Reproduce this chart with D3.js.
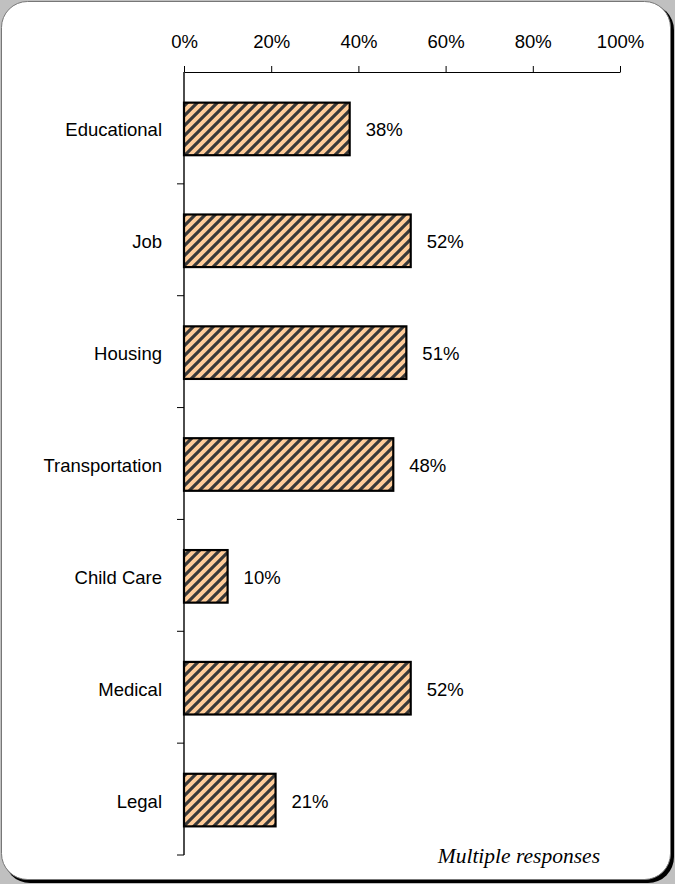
<!DOCTYPE html>
<html>
<head>
<meta charset="utf-8">
<script src="https://cdn.jsdelivr.net/npm/d3@7"></script>
<style>
  html, body { margin: 0; padding: 0; background: #c0c0c0; }
  svg { display: block; }
</style>
</head>
<body>
<script>
// Services needed, share of respondents
const categories = ["Educational", "Job", "Housing", "Transportation", "Child Care", "Medical", "Legal"];
const values = [38, 52, 51, 48, 10, 52, 21];
const tickValues = [0, 20, 40, 60, 80, 100];
const note = "Multiple responses";

const W = 675, H = 884;
const FONT = "Liberation Sans, Arial, sans-serif";
const svg = d3.select("body").append("svg").attr("width", W).attr("height", H);

// Diagonal hatch fill
const defs = svg.append("defs");
const P = 10;
const pat = defs.append("pattern")
  .attr("id", "hatch").attr("patternUnits", "userSpaceOnUse")
  .attr("width", P).attr("height", P);
pat.append("rect").attr("width", P).attr("height", P).attr("fill", "#ffcc99");
pat.append("path")
  .attr("d", `M-2,2 L2,-2 M0,${P} L${P},0 M${P - 2},${P + 2} L${P + 2},${P - 2}`)
  .attr("stroke", "#383838").attr("stroke-width", 3.1).attr("stroke-linecap", "square");

// Rounded frame with drop shadow
svg.append("rect").attr("x", 4).attr("y", 4).attr("width", W - 5).attr("height", H - 5)
  .attr("rx", 26).attr("fill", "#000");
svg.append("rect").attr("x", 1.5).attr("y", 1.5).attr("width", W - 6).attr("height", H - 6)
  .attr("rx", 26).attr("fill", "#fff").attr("stroke", "#777").attr("stroke-width", 1);

const margin = { left: 184, right: 55, top: 72, bottom: 29 };
const x = d3.scaleLinear().domain([0, 100]).range([margin.left, W - margin.right]);
const yTop = margin.top, yBot = H - margin.bottom;
const y = d3.scaleBand().domain(categories).range([yTop + 1, yBot + 1]).paddingInner(0.53).paddingOuter(0.265);

// Top percentage axis
const xAxis = svg.append("g").attr("transform", `translate(0,${margin.top})`)
  .call(d3.axisTop(x).tickValues(tickValues).tickFormat(d => d + "%").tickSize(6).tickSizeOuter(0).tickPadding(18));
xAxis.select(".domain").attr("stroke", "#000").attr("stroke-width", 1.2);
xAxis.selectAll(".tick line").attr("stroke", "#000");
xAxis.selectAll("text").attr("font-family", FONT).attr("font-size", 18.5).attr("fill", "#000");

// Category axis with ticks between bands
const step = (yBot - yTop) / categories.length;
const yg = svg.append("g");
yg.append("line").attr("x1", margin.left).attr("x2", margin.left).attr("y1", yTop).attr("y2", yBot)
  .attr("stroke", "#000").attr("stroke-width", 1.4);
d3.range(1, categories.length + 1).forEach(i => {
  yg.append("line").attr("x1", margin.left - 7).attr("x2", margin.left)
    .attr("y1", yTop + i * step).attr("y2", yTop + i * step).attr("stroke", "#000");
});
yg.selectAll("text.cat").data(categories).join("text")
  .attr("class", "cat")
  .attr("x", 162).attr("y", d => y(d) + y.bandwidth() / 2 + 1)
  .attr("dy", "0.35em").attr("text-anchor", "end")
  .attr("font-family", FONT).attr("font-size", 18.5)
  .text(d => d);

// Bars
const data = categories.map((c, i) => ({ c, v: values[i] }));
svg.selectAll("rect.bar").data(data).join("rect")
  .attr("class", "bar")
  .attr("x", x(0)).attr("y", d => y(d.c))
  .attr("width", d => x(d.v) - x(0)).attr("height", y.bandwidth())
  .attr("fill", "url(#hatch)").attr("stroke", "#000").attr("stroke-width", 2.2);

// Value labels
svg.selectAll("text.val").data(data).join("text")
  .attr("class", "val")
  .attr("x", d => x(d.v) + 16).attr("y", d => y(d.c) + y.bandwidth() / 2 + 1)
  .attr("dy", "0.35em")
  .attr("font-family", FONT).attr("font-size", 18.5)
  .text(d => d.v + "%");

// Footnote
svg.append("text").attr("x", 600).attr("y", 863).attr("text-anchor", "end")
  .attr("font-family", "Liberation Serif, Times New Roman, serif").attr("font-style", "italic")
  .attr("font-size", 21.5).text(note);
</script>
</body>
</html>
